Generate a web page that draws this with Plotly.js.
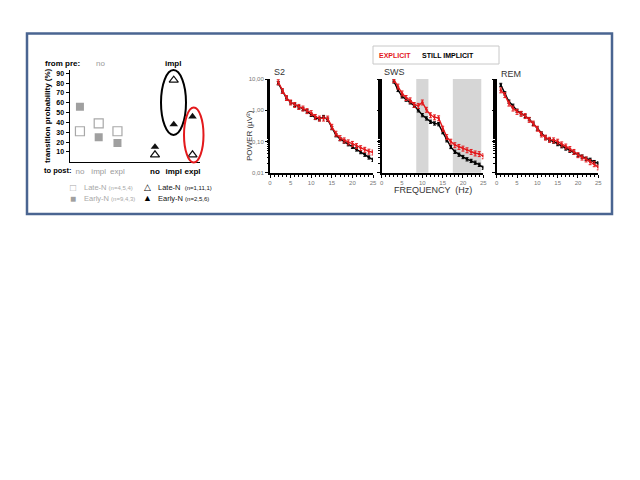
<!DOCTYPE html>
<html><head><meta charset="utf-8">
<script src="https://cdn.plot.ly/plotly-3.0.1.min.js"></script>
<style>html,body{margin:0;padding:0;background:#fff}#c{width:640px;height:480px}</style>
</head><body><div id="c"></div>
<script>
// ---- Left panel: transition probabilities ----
const transPos = [0, 1, 2, 4, 5, 6];
const transTickText = ['no', 'impl', 'expl', 'no', 'impl', 'expl'];
const noPreX = [0, 1, 2];
const implPreX = [4, 5, 6];
const lateNoPre = [31, 39, 31];
const earlyNoPre = [56, 25, 19];
const lateImplPre = [7, 83, 7];
const earlyImplPre = [15, 38, 46];

// ---- Right panels: power spectra ----
const freq = [1,2,3,4,5,6,7,8,9,10,11,12,13,14,15,16,17,18,19,20,21,22,23,24,25];
const s2Impl = [null,7.4,4.0,2.4,1.8,1.5,1.25,1.1,0.93,0.72,0.57,0.52,0.61,0.5,0.27,0.16,0.12,0.1,0.082,0.068,0.056,0.046,0.038,0.031,0.026];
const s2Expl = [null,8.0,4.2,2.5,1.8,1.5,1.3,1.15,0.95,0.82,0.62,0.55,0.55,0.55,0.3,0.18,0.13,0.11,0.095,0.085,0.072,0.062,0.055,0.048,0.045];
const swsImpl = [null,null,8.4,4.5,2.8,2.2,1.8,1.4,1.0,0.7,0.55,0.43,0.38,0.36,0.2,0.11,0.067,0.047,0.038,0.032,0.027,0.024,0.021,0.018,0.0145];
const swsExpl = [null,null,9.5,5.8,3.5,2.5,2.1,1.5,1.4,1.8,1.05,0.7,0.6,0.56,0.26,0.14,0.1,0.077,0.068,0.06,0.053,0.047,0.042,0.04,0.034];
const remImpl = [6.5,3.5,1.9,1.4,0.97,0.8,0.66,0.52,0.37,0.26,0.18,0.135,0.11,0.1,0.083,0.071,0.06,0.051,0.044,0.037,0.033,0.028,0.026,0.022,0.02];
const remExpl = [4.4,3.1,1.66,1.15,0.9,0.78,0.66,0.5,0.38,0.26,0.17,0.135,0.115,0.11,0.1,0.082,0.07,0.058,0.047,0.037,0.031,0.027,0.022,0.019,0.015];
const swsBands = [[8.5, 11.5], [17.5, 24.5]];
const powerTickVals = [0.01, 0.1, 1, 10];
const powerTickText = ['0,01', '0,10', '1,00', '10,00'];

const W = 640, H = 480;
const px = x => x / W, py = y => 1 - y / H;
const GREY = '#9a9a9a', RED = '#e3191c';

const traces = [];
traces.push({x: noPreX, y: lateNoPre, xaxis:'x', yaxis:'y', mode:'markers', type:'scatter',
  marker:{symbol:'square-open', size:9, color:'#a8a8a8', line:{width:1.2}}});
traces.push({x: noPreX, y: earlyNoPre, xaxis:'x', yaxis:'y', mode:'markers', type:'scatter',
  marker:{symbol:'square', size:8, color:'#a0a0a0'}});
traces.push({x: implPreX, y: lateImplPre, xaxis:'x', yaxis:'y', mode:'markers', type:'scatter',
  marker:{symbol:'triangle-up-open', size:8, color:'#111', line:{width:1.2}}});
traces.push({x: implPreX, y: earlyImplPre, xaxis:'x', yaxis:'y', mode:'markers', type:'scatter',
  marker:{symbol:'triangle-up', size:7.5, color:'#111'}});

const spectra = [[s2Impl, s2Expl, 'x2', 'y2'], [swsImpl, swsExpl, 'x3', 'y3'], [remImpl, remExpl, 'x4', 'y4']];
spectra.forEach(([imp, exp, xa, ya]) => {
  traces.push({x: freq, y: imp, xaxis: xa, yaxis: ya, type:'scatter', mode:'lines+markers', cliponaxis:true,
    line:{color:'#000', width:1.4}, marker:{size:2.5, color:'#000'},
    error_y:{type:'percent', value:12, color:'#000', thickness:1, width:1.5}});
  traces.push({x: freq, y: exp, xaxis: xa, yaxis: ya, type:'scatter', mode:'lines+markers', cliponaxis:true,
    line:{color:RED, width:1.4}, marker:{size:2.5, color:RED},
    error_y:{type:'percent', value:18, color:RED, thickness:1, width:1.5}});
});

const tickFont = {family:'Liberation Sans, Arial', size:6, color:'#777'};
function powerX(d0, d1) {
  return {domain:[px(d0), px(d1)], range:[0, 25], tickvals:[0,5,10,15,20,25], showline:true, linecolor:'#000', linewidth:2,
    ticks:'outside', ticklen:3, tickcolor:'#000', tickfont:tickFont, zeroline:false, showgrid:false,
    minor:{dtick:1, ticks:'outside', ticklen:2, tickcolor:'#000'}};
}
function powerY(anchor, showLabels) {
  return {domain:[py(172.7), py(79)], type:'log', range:[-2, 1], anchor: anchor, showline:true, linecolor:'#000', linewidth:2,
    tickvals: powerTickVals, ticktext: powerTickText, showticklabels: showLabels, ticks:'outside', ticklen:3, tickcolor:'#000',
    tickfont:tickFont, showgrid:false, zeroline:false,
    minor:{ticks:'outside', ticklen:1.5, tickcolor:'#000', showgrid:false}};
}

const tickTextHtml = transTickText.map((t, i) => i < 3 ? `<span style="color:${GREY}">${t}</span>` : `<b>${t}</b>`);

function ann(x, y, text, font, extra) {
  return Object.assign({xref:'paper', yref:'paper', x:px(x), y:py(y), xanchor:'center', yanchor:'middle', text:text, showarrow:false,
    font:Object.assign({family:'Liberation Sans, Arial'}, font)}, extra || {});
}

const layout = {
  width: W, height: H, margin:{l:0, r:0, t:0, b:0}, showlegend:false,
  paper_bgcolor:'#fff', plot_bgcolor:'rgba(0,0,0,0)',
  font:{family:'Liberation Sans, Arial', color:'#222'},
  xaxis:{domain:[px(70), px(200)], range:[-0.53, 6.4], tickvals: transPos, ticktext: tickTextHtml,
    showline:true, linecolor:'#000', linewidth:1.5, ticks:'', showgrid:false, zeroline:false,
    tickfont:{family:'Liberation Sans, Arial', size:8, color:'#000'}, ticklabelstandoff: 1},
  yaxis:{domain:[py(161.7), py(70)], range:[0, 93.4], tickvals:[10,20,30,40,50,60,70,80,90],
    showline:true, linecolor:'#000', linewidth:1.5, ticks:'outside', ticklen:3, tickcolor:'#000', showgrid:false, zeroline:false,
    tickfont:{family:'Liberation Sans, Arial', size:7, color:'#000', weight:'bold'},
    title:{text:'<b>transition probability (%)</b>', font:{size:8, color:'#000'}, standoff:4}},
  xaxis2: Object.assign(powerX(270, 373), {anchor:'y2'}),
  yaxis2: powerY('x2', true),
  xaxis3: Object.assign(powerX(381.7, 483.3), {anchor:'y3'}),
  yaxis3: powerY('x3', false),
  xaxis4: Object.assign(powerX(496.7, 598.3), {anchor:'y4'}),
  yaxis4: powerY('x4', false),
  shapes: [
    {type:'rect', xref:'paper', yref:'paper', x0:px(27), x1:px(612), y0:py(214), y1:py(33.5), line:{color:'#4a6591', width:2.5}},
    {type:'rect', xref:'paper', yref:'paper', x0:px(373), x1:px(499), y0:py(64), y1:py(46), line:{color:'#c8c8c8', width:1}},
    {type:'circle', xref:'paper', yref:'paper', x0:px(161), x1:px(186), y0:py(135), y1:py(70), line:{color:'#000', width:2}},
    {type:'circle', xref:'paper', yref:'paper', x0:px(184), x1:px(203.5), y0:py(162.5), y1:py(107.5), line:{color:RED, width:2}},
    ...swsBands.map(b => ({type:'rect', xref:'x3', yref:'y3 domain', x0:b[0], x1:b[1], y0:0, y1:1, fillcolor:'#d6d6d6', line:{width:0}, layer:'below'}))
  ],
  annotations: [
    ann(62, 64, '<b>from pre:</b>', {size:8, color:'#000'}),
    ann(100, 64, 'no', {size:8, color:GREY}),
    ann(173, 64, '<b>impl</b>', {size:8, color:'#000'}),
    ann(58, 170.5, '<b>to post:</b>', {size:7.5, color:'#000'}),
    ann(82, 187, 'Late-N <span style="font-size:6px">(n=4,5,4)</span>', {size:7.5, color:'#a8a8a8'}, {xanchor:'left'}),
    ann(82, 198, 'Early-N <span style="font-size:6px">(n=9,4,3)</span>', {size:7.5, color:'#a8a8a8'}, {xanchor:'left'}),
    ann(73, 187, '□', {size:10, color:'#a8a8a8'}),
    ann(73, 198, '■', {size:10, color:'#a0a0a0'}),
    ann(147, 187, '△', {size:9, color:'#000'}),
    ann(147, 198, '▲', {size:9, color:'#000'}),
    ann(156, 187, 'Late-N  <span style="font-size:6px">(n=1,11,1)</span>', {size:7.5, color:'#111'}, {xanchor:'left'}),
    ann(156, 198, 'Early-N <span style="font-size:6px">(n=2,5,6)</span>', {size:7.5, color:'#111'}, {xanchor:'left'}),
    ann(395, 55, '<b>EXPLICIT</b>', {size:7, color:RED}),
    ann(448, 55, '<b>STILL IMPLICIT</b>', {size:7, color:'#000'}),
    ann(279, 72, 'S2', {size:9, color:'#333'}),
    ann(394, 72, 'SWS', {size:9, color:'#333'}),
    ann(511, 74, 'REM', {size:9, color:'#333'}),
    ann(249, 136, 'POWER (µV²)', {size:8, color:'#333'}, {textangle:-90}),
    ann(433, 190, 'FREQUENCY  (Hz)', {size:9, color:'#333'})
  ]
};
Plotly.newPlot('c', traces, layout, {staticPlot:true});
</script></body></html>
